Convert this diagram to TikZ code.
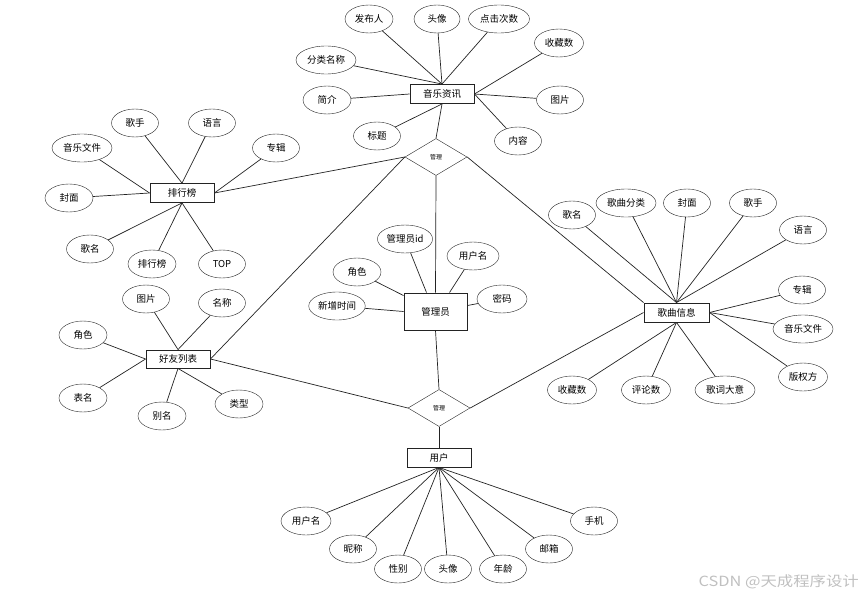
\documentclass[tikz,border=0pt]{standalone}
\usepackage{fontspec}
\setmainfont{Noto Sans CJK SC}
\usetikzlibrary{shapes.geometric}
\definecolor{linegray}{RGB}{35,35,35}
\definecolor{markgray}{RGB}{192,192,192}

\begin{document}
\begin{tikzpicture}[x=1pt,y=-1pt,
    attr/.style={draw=linegray,ellipse,minimum height=28pt,inner sep=1pt,
      font=\fontsize{9.5}{10}\selectfont},
    entity/.style={draw=linegray,line width=0.9pt,minimum width=64pt,
      minimum height=19pt,inner sep=1pt,font=\fontsize{9.5}{10}\selectfont},
    rel/.style={draw=linegray,diamond,aspect=1.68,minimum width=62pt,
      minimum height=37pt,inner sep=0pt,font=\fontsize{6}{6}\selectfont},
    link/.style={draw=linegray,line width=0.7pt}]
  \useasboundingbox (0,0) rectangle (866,597);
  % entities and relations
  \node[entity] (zx) at (442,94) {音乐资讯};
  \node[entity] (phb) at (182,193) {排行榜};
  \node[entity,minimum width=63pt,minimum height=37pt] (gly) at (435.5,311.5) {管理员};
  \node[entity,minimum width=65pt] (gq) at (676.5,312.5) {歌曲信息};
  \node[entity,minimum height=18pt] (hy) at (178,359) {好友列表};
  \node[entity] (yh) at (439,457.5) {用户};
  \node[rel] (gl1) at (436,157) {管理};
  \node[rel] (gl2) at (439,408) {管理};
  % music news
  \foreach \t/\x/\y/\w/\a [count=\i] in {发布人/369/19/48pt/north,
      头像/437/19/46pt/north, 点击次数/499/19/61pt/north,
      收藏数/559/43/49pt/east, 分类名称/326/60/60pt/north,
      简介/327/100/48pt/west, 图片/560/100/47pt/east,
      标题/377/136/47pt/south, 内容/518/141/47pt/east}{
    \node[attr,minimum width=\w] (zx\i) at (\x,\y) {\t};
    \draw[link] (zx\i) -- (zx.\a);}
  % ranking list
  \foreach \t/\x/\y/\w/\a [count=\i] in {歌手/135/123/47pt/north,
      语言/212/123/47pt/north, 专辑/276/148/47pt/east,
      音乐文件/82/148/60pt/west, 封面/69/198/48pt/west,
      歌名/90/249/47pt/south, 排行榜/152/264/48pt/south,
      TOP/222/264/47pt/south}{
    \node[attr,minimum width=\w] (phb\i) at (\x,\y) {\t};
    \draw[link] (phb\i) -- (phb.\a);}
  % admin
  \node[attr,minimum width=50pt] (gly1) at (405,239) {管理员id};
  \node[attr,minimum width=52pt] (gly2) at (473,256) {用户名};
  \node[attr,minimum width=48pt] (gly3) at (357,272) {角色};
  \node[attr,minimum width=52pt] (gly4) at (337,306) {新增时间};
  \node[attr,minimum width=50pt] (gly5) at (502,299) {密码};
  \draw[link] (gly1) -- ([xshift=-9pt]gly.north);
  \draw[link] (gly2) -- ([xshift=14pt]gly.north);
  \draw[link] (gly3) -- ([yshift=-3pt]gly.north west);
  \draw[link] (gly4) -- (gly.west);
  \draw[link] (gly5) -- ([yshift=6pt]gly.east);
  % song info
  \foreach \t/\x/\y/\w/\a [count=\i] in {歌名/572/215/47pt/north,
      歌曲分类/626/203/60pt/north, 封面/687/203/47pt/north,
      歌手/753/203/47pt/north, 语言/803/230/47pt/north,
      专辑/802/290/47pt/east, 音乐文件/803/329/60pt/east,
      版权方/803/377/49pt/east, 歌词大意/725/390/60pt/south,
      评论数/646/390/49pt/south, 收藏数/572/390/49pt/south}{
    \node[attr,minimum width=\w] (gq\i) at (\x,\y) {\t};
    \draw[link] (gq\i) -- (gq.\a);}
  % friend list
  \foreach \t/\x/\y/\w/\a [count=\i] in {图片/146/299/47pt/north,
      名称/222/303/47pt/north, 角色/83/335/48pt/west,
      表名/83/398/48pt/west, 别名/162/416/48pt/south,
      类型/239/404/48pt/south}{
    \node[attr,minimum width=\w] (hy\i) at (\x,\y) {\t};
    \draw[link] (hy\i) -- (hy.\a);}
  % user
  \foreach \t/\x/\y/\w [count=\i] in {用户名/306/521/50pt, 昵称/353/549/47pt,
      性别/398/569/47pt, 头像/448/569/47pt, 年龄/503/569/47pt,
      邮箱/549/549/47pt, 手机/594/521/47pt}{
    \node[attr,minimum width=\w] (yh\i) at (\x,\y) {\t};
    \draw[link] (yh\i) -- (yh.south);}
  % relations
  \draw[link] (zx.south) -- (gl1.north);
  \draw[link] (gl1.south) -- (gly.north);
  \draw[link] (gl1.west) -- (phb.east);
  \draw[link] (gl1.west) -- (hy.east);
  \draw[link] (gl1.east) -- (gq.north west);
  \draw[link] (gly.south) -- (gl2.north);
  \draw[link] (gl2.south) -- (yh.north);
  \draw[link] (gl2.west) -- (hy.east);
  \draw[link] (gl2.east) -- (gq.west);
  % watermark
  \node[text=markgray,font=\fontsize{14}{16}\selectfont,xscale=1.17,
    anchor=east] (mark) at (863,582) {CSDN @天成程序设计};
\end{tikzpicture}
\end{document}
